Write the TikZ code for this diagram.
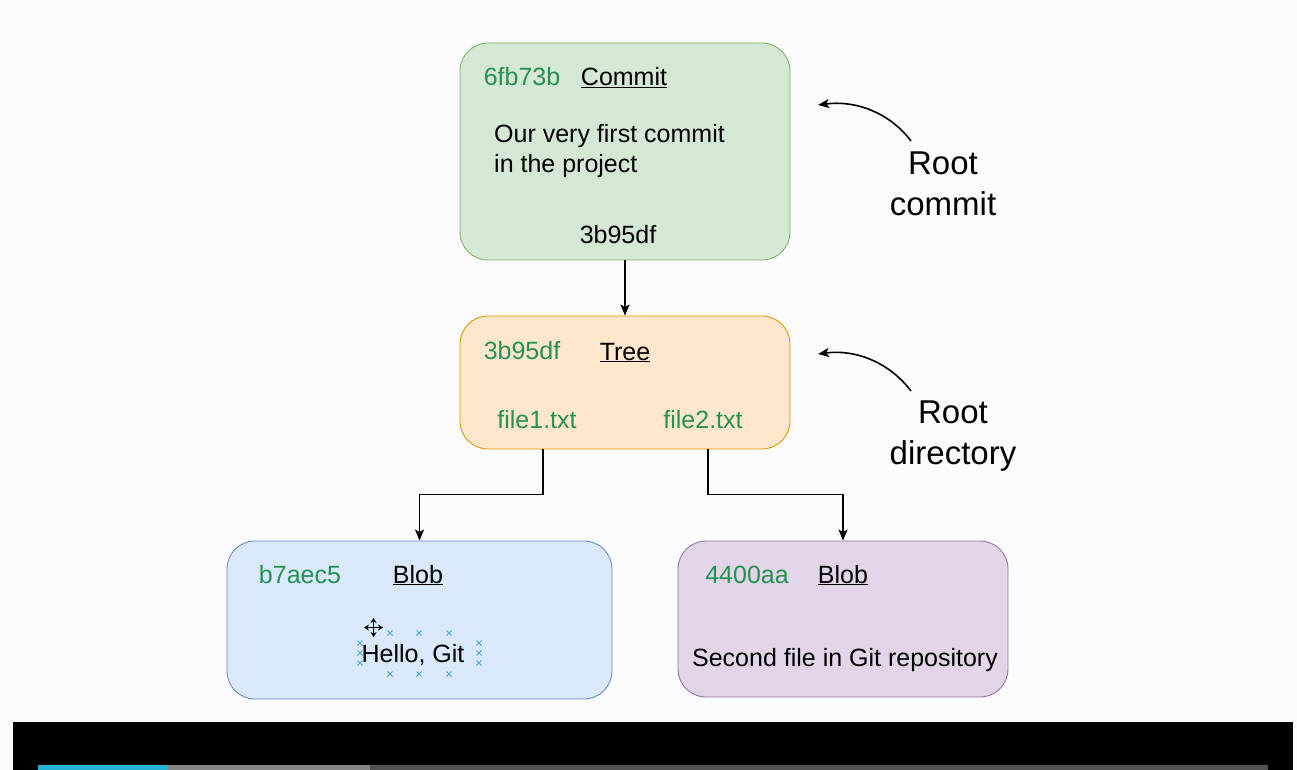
\documentclass[tikz,border=0pt]{standalone}
\usepackage{fontspec}
\setmainfont{Liberation Sans}
\usepackage{tikz}
\usetikzlibrary{positioning, arrows, arrows.meta}

\definecolor{pagebg}{RGB}{252,252,254}
\definecolor{hashgreen}{RGB}{36,146,82}
\definecolor{commitfill}{HTML}{D5E8D4}
\definecolor{commitline}{HTML}{82B366}
\definecolor{treefill}{HTML}{FFE6CC}
\definecolor{treeline}{HTML}{D79B00}
\definecolor{blobAfill}{HTML}{DAE8FC}
\definecolor{blobAline}{HTML}{6C8EBF}
\definecolor{blobBfill}{HTML}{E1D5E7}
\definecolor{blobBline}{HTML}{9673A6}
\definecolor{handle}{RGB}{70,170,228}
\definecolor{barblue}{RGB}{36,178,212}

\tikzset{
    objbox/.style={draw, rounded corners=28pt, line width=0.9pt},
    hash/.style={anchor=base, inner sep=0pt, text=hashgreen, font=\fontsize{25}{30}\selectfont},
    kind/.style={anchor=base, inner sep=0pt, font=\fontsize{25}{30}\selectfont},
    note/.style={anchor=base, inner sep=0pt, align=center, font=\fontsize{33}{41}\selectfont},
    link/.style={-{Stealth[length=11pt,width=9pt,inset=2.5pt]}, line width=1.6pt},
}

\begin{document}
\begin{tikzpicture}[x=1pt,y=-1pt]
    \useasboundingbox (0,0) rectangle (1297,770);
    \fill[pagebg] (0,0) rectangle (1297,770);

    % objects
    \node[objbox, fill=commitfill, draw=commitline, minimum width=330pt, minimum height=217pt] (commit) at (625,151.5) {};
    \node[objbox, fill=treefill, draw=treeline, minimum width=330pt, minimum height=133pt] (tree) at (625,382.5) {};
    \node[objbox, fill=blobAfill, draw=blobAline, minimum width=385pt, minimum height=158pt] (blobA) at (419.5,620) {};
    \node[objbox, fill=blobBfill, draw=blobBline, minimum width=330pt, minimum height=156pt] (blobB) at (843,619) {};

    % commit
    \node[hash] (chash) at (522,86) {6fb73b};
    \node[kind] (ckind) at (624,86) {\underline{Commit}};
    \node[kind, anchor=base west, align=left] (cmsg) at (494,173) {Our very first commit\\in the project};
    \node[kind] (ctree) at (618,243) {3b95df};

    % tree
    \node[hash] (thash) at (522,359) {3b95df};
    \node[kind] (tkind) at (625,360) {\underline{Tree}};
    \node[hash] (file1) at (537,428) {file1.txt};
    \node[hash] (file2) at (703,428) {file2.txt};

    % blobs
    \node[hash] (ahash) at (300,583) {b7aec5};
    \node[kind] (akind) at (418,583) {\underline{Blob}};
    \node[kind] (atext) at (413,662) {Hello, Git};
    \node[hash] (bhash) at (747,583) {4400aa};
    \node[kind] (bkind) at (843,583) {\underline{Blob}};
    \node[kind] (btext) at (845,666) {Second file in Git repository};

    % selection handles
    \foreach \hx/\hy in {390/633, 419/633, 449/633, 390/674, 419/674, 449/674,
                         360/643, 360/653, 360/663, 479/643, 479/653, 479/663}
        \draw[handle, line width=0.8pt] (\hx-2.5,\hy-2.5) -- (\hx+2.5,\hy+2.5) (\hx-2.5,\hy+2.5) -- (\hx+2.5,\hy-2.5);
    \draw[{Stealth[length=5pt,width=6pt]}-{Stealth[length=5pt,width=6pt]}, line width=1.6pt] (364,627.5) -- (383,627.5);
    \draw[{Stealth[length=5pt,width=6pt]}-{Stealth[length=5pt,width=6pt]}, line width=1.6pt] (373.5,618) -- (373.5,637);

    % links
    \draw[link] (commit) -- (tree);
    \draw[link] ([xshift=6pt]file1.south |- tree.south) -- ++(0,45) -| (blobA.north);
    \draw[link] ([xshift=5pt]file2.south |- tree.south) -- ++(0,45) -| (blobB.north);

    % side notes
    \node[note] (rootc) at (943,215) {Root\\commit};
    \node[note] (rootd) at (953,464) {Root\\directory};
    \coordinate (cfrom) at (911,141);
    \coordinate (cto) at (818,105);
    \coordinate (dfrom) at (911,391);
    \coordinate (dto) at (818,354);
    \draw[link] (cfrom) .. controls (890,113) and (856,100) .. (cto);
    \draw[link] (dfrom) .. controls (890,363) and (856,349) .. (dto);

    % player bar
    \fill[black] (13,722) rectangle (1293,770);
    \fill[black!68] (38,765) rectangle (1268,770);
    \fill[black!48] (38,765) rectangle (370,770);
    \fill[barblue] (38,765) rectangle (168,770);
\end{tikzpicture}
\end{document}
